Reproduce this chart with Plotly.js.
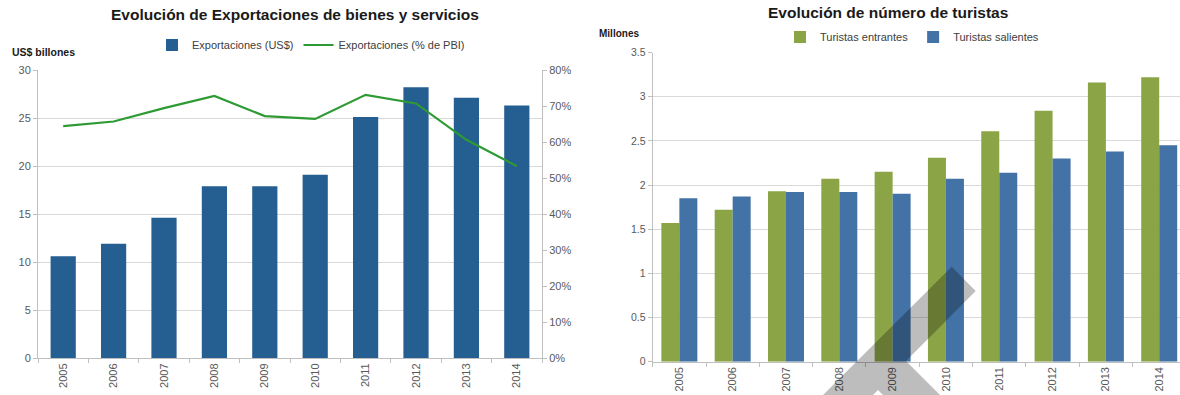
<!DOCTYPE html>
<html>
<head>
<meta charset="utf-8">
<script src="https://cdn.plot.ly/plotly-3.0.1.min.js"></script>
<style>
  html, body { margin: 0; padding: 0; background: #fff; }
  #chart { width: 1180px; height: 395px; }
</style>
</head>
<body>
<div id="chart"></div>
<script>
// ---- Data ----
const years = ['2005','2006','2007','2008','2009','2010','2011','2012','2013','2014'];
const exportacionesUSD = [10.6, 11.9, 14.6, 17.9, 17.9, 19.1, 25.1, 28.2, 27.1, 26.3];
const exportacionesPBI = [64.4, 65.7, 69.4, 72.8, 67.2, 66.4, 73.1, 70.7, 60.6, 53.3];
const turistasEntrantes = [1.57, 1.72, 1.93, 2.07, 2.15, 2.31, 2.61, 2.84, 3.16, 3.22];
const turistasSalientes = [1.85, 1.87, 1.92, 1.92, 1.90, 2.07, 2.14, 2.30, 2.38, 2.45];

// ---- Layout helpers (pixel -> paper, margins are zero) ----
const W = 1180, H = 395;
const px = v => v / W;
const py = v => 1 - v / H;

const FONT = 'Liberation Sans, Arial, sans-serif';
const tickFont = {family: FONT, size: 11, color: '#595959'};
const axisLine = '#bfbfbf';
const gridCol = '#d9d9d9';

const traces = [
  {
    type: 'bar', x: years, y: exportacionesUSD, name: 'Exportaciones (US$)',
    xaxis: 'x', yaxis: 'y', width: 0.5,
    marker: {color: '#255e91'}, legend: 'legend'
  },
  {
    type: 'scatter', mode: 'lines', x: years, y: exportacionesPBI, name: 'Exportaciones (% de PBI)',
    xaxis: 'x', yaxis: 'y2',
    line: {color: '#2e9a33', width: 2.2}, legend: 'legend'
  },
  {
    type: 'bar', x: years, y: turistasEntrantes, name: 'Turistas entrantes',
    xaxis: 'x2', yaxis: 'y3', marker: {color: '#8ba446'}, legend: 'legend2'
  },
  {
    type: 'bar', x: years, y: turistasSalientes, name: 'Turistas salientes',
    xaxis: 'x2', yaxis: 'y3', marker: {color: '#4372a6'}, legend: 'legend2'
  }
];

const layout = {
  width: W, height: H,
  margin: {l: 0, r: 0, t: 0, b: 0, autoexpand: false},
  paper_bgcolor: '#ffffff', plot_bgcolor: 'rgba(0,0,0,0)',
  barmode: 'group', bargap: 0.325, bargroupgap: 0,
  font: {family: FONT, color: '#404040'},
  xaxis: {
    domain: [px(38), px(542)], anchor: 'y', type: 'category',
    range: [-0.5, 9.5],
    showline: true, linecolor: axisLine, linewidth: 1,
    ticks: 'outside', tickson: 'boundaries', ticklen: 4, tickcolor: axisLine,
    tickangle: -90, tickfont: {family: FONT, size: 11, color: '#595959'},
    showgrid: false
  },
  yaxis: {
    domain: [py(358), py(70)], anchor: 'x', range: [0, 30], dtick: 5,
    showline: true, linecolor: axisLine, linewidth: 1,
    ticks: 'outside', ticklen: 4, tickcolor: axisLine,
    tickfont: tickFont, showgrid: true, gridcolor: gridCol, gridwidth: 1,
    zeroline: false
  },
  yaxis2: {
    overlaying: 'y', side: 'right', anchor: 'x', range: [0, 80], dtick: 10,
    ticksuffix: '%',
    showline: true, linecolor: axisLine, linewidth: 1,
    ticks: 'outside', ticklen: 4, tickcolor: axisLine,
    tickfont: tickFont, showgrid: false, zeroline: false
  },
  xaxis2: {
    domain: [px(652.7), 1], anchor: 'y3', type: 'category',
    range: [-0.5, 9.39],
    showline: true, linecolor: axisLine, linewidth: 1,
    ticks: 'outside', tickson: 'boundaries', ticklen: 4, tickcolor: axisLine,
    tickangle: -90, tickfont: {family: FONT, size: 11, color: '#595959'},
    showgrid: false
  },
  yaxis3: {
    domain: [py(361.7), py(52.5)], anchor: 'x2', range: [0, 3.5], dtick: 0.5,
    showline: true, linecolor: axisLine, linewidth: 1,
    ticks: 'outside', ticklen: 4, tickcolor: axisLine,
    tickfont: {family: FONT, size: 10.5, color: '#595959'},
    showgrid: true, gridcolor: gridCol, gridwidth: 1, zeroline: false
  },
  legend: {
    orientation: 'h', x: px(311), xanchor: 'center', y: py(45), yanchor: 'middle',
    font: {family: FONT, size: 11, color: '#404040'}, bgcolor: 'rgba(0,0,0,0)',
    itemwidth: 30, tracegroupgap: 0
  },
  legend2: {
    orientation: 'h', x: px(912), xanchor: 'center', y: py(37), yanchor: 'middle',
    font: {family: FONT, size: 11, color: '#404040'}, bgcolor: 'rgba(0,0,0,0)',
    itemwidth: 30, tracegroupgap: 0
  },
  annotations: [
    {text: '<b>Evolución de Exportaciones de bienes y servicios</b>', xref: 'paper', yref: 'paper',
     x: px(295), y: py(15), xanchor: 'center', yanchor: 'middle', showarrow: false,
     font: {family: FONT, size: 15.5, color: '#1a1a1a'}},
    {text: '<b>Evolución de número de turistas</b>', xref: 'paper', yref: 'paper',
     x: px(888), y: py(13), xanchor: 'center', yanchor: 'middle', showarrow: false,
     font: {family: FONT, size: 15.5, color: '#1a1a1a'}},
    {text: '<b>US$ billones</b>', xref: 'paper', yref: 'paper',
     x: px(10), y: py(52), xanchor: 'left', yanchor: 'middle', showarrow: false,
     font: {family: FONT, size: 10.5, color: '#1a1a1a'}},
    {text: '<b>Millones</b>', xref: 'paper', yref: 'paper',
     x: px(597), y: py(33), xanchor: 'left', yanchor: 'middle', showarrow: false,
     font: {family: FONT, size: 10, color: '#1a1a1a'}}
  ],
  shapes: [
    {
      type: 'path', xref: 'paper', yref: 'paper', layer: 'above',
      path: 'M ' + [[823,395],[951.7,266.7],[975.7,291],[906,361],[940,395],[883,395],[878,390],[873,395]]
        .map(p => px(p[0]) + ',' + py(p[1])).join(' L ') + ' Z',
      fillcolor: 'rgba(0,0,0,0.26)', line: {width: 0}
    }
  ]
};

Plotly.newPlot('chart', traces, layout, {displayModeBar: false, staticPlot: true});
</script>
</body>
</html>
